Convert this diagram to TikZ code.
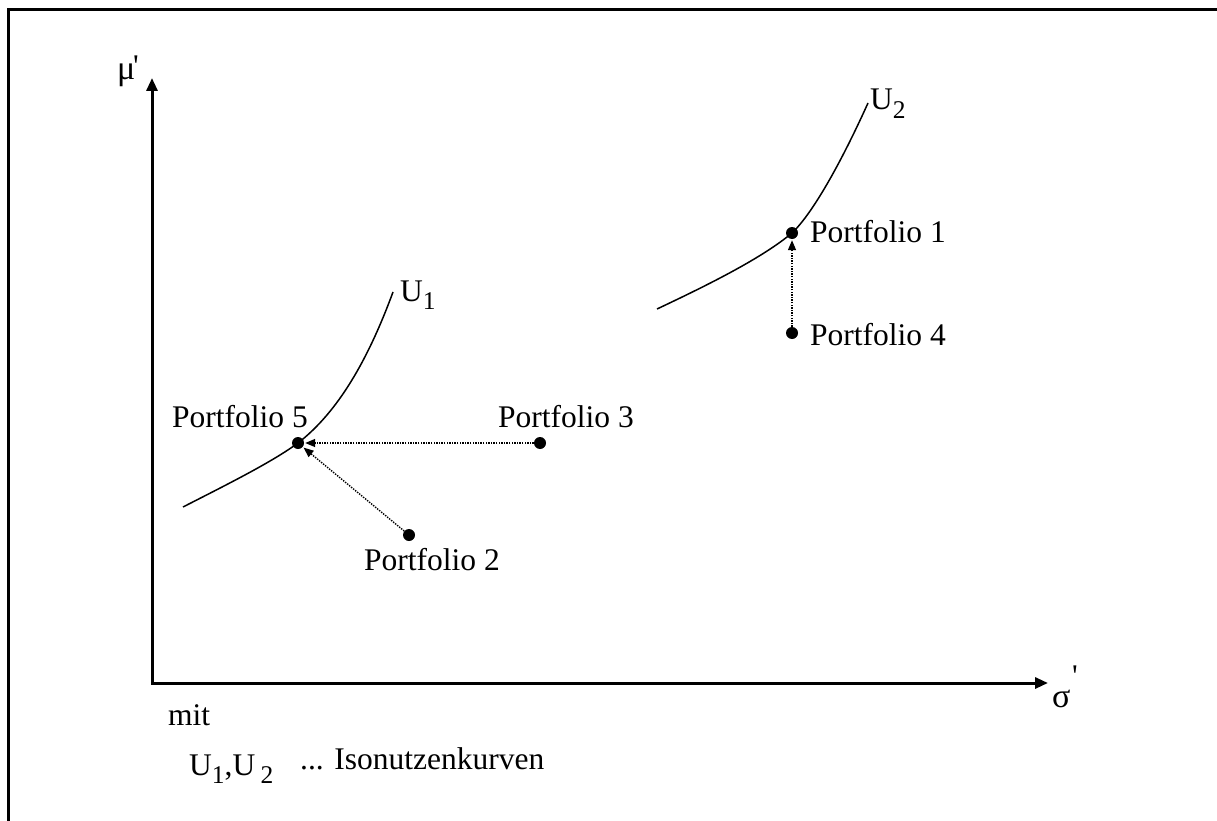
\documentclass[tikz,border=0pt]{standalone}
\usepackage{fontspec}
\setmainfont{Liberation Serif}
\usetikzlibrary{arrows.meta}
\newcommand\subnum[1]{\raisebox{-0.27em}{\fontsize{25.5}{28}\selectfont #1}}
\begin{document}
\begin{tikzpicture}[x=1pt,y=-1pt,
  every node/.style={font=\fontsize{31.5}{36}\selectfont, inner sep=0pt},
  axis/.style={line width=3pt, {Triangle[length=13pt,width=11pt]}-{Triangle[length=13pt,width=11pt]}},
  curve/.style={line width=1.5pt},
  dotpt/.style={circle, fill=black, minimum size=12pt, inner sep=0pt},
  move/.style={line width=1.4pt, dash pattern=on 1.4pt off 1.2pt, -{Triangle[length=10pt,width=8pt]}, shorten >=1pt},
  lbl/.style={anchor=base west},
  frame/.style={line width=2.5pt}]
\useasboundingbox (0,0) rectangle (1217,821);
% frame
\draw[frame] (8.5,821) -- (8.5,9.5) -- (1217,9.5);
% axes
\coordinate (O) at (152,683);
\coordinate (ytip) at (152,78);
\coordinate (xtip) at (1048,683);
\draw[axis] (ytip) -- (O) -- (xtip);
\node[lbl, font=\fontsize{34}{38}\selectfont] (mu) at (117,80) {μ};
\node[anchor=north] (mup) at (136,56) {\textquotesingle};
\node[lbl, font=\fontsize{34}{38}\selectfont] (sigma) at (1052,707) {σ};
\node[anchor=north] (sigp) at (1075,666) {\textquotesingle};
% points
\node[dotpt] (p5) at (298,443) {};
\node[dotpt] (p3) at (540,443) {};
\node[dotpt] (p2) at (409,535) {};
\node[dotpt] (p1) at (792,233) {};
\node[dotpt] (p4) at (792,333) {};
% curves
\draw[curve] (183,507) .. controls (230,483) and (272,462) .. (p5.center)
  .. controls (338,412) and (368,360) .. (393,292);
\draw[curve] (657,309) .. controls (710,284) and (762,258) .. (p1.center)
  .. controls (812,214) and (840,165) .. (868,103);
% moves
\draw[move] (p3) -- (p5);
\draw[move] (p2) -- (p5);
\draw[move] (p4) -- (p1);
% labels
\node[lbl] (l5) at (172,427) {Portfolio 5};
\node[lbl] (l3) at (498,427) {Portfolio 3};
\node[lbl] (l2) at (364,570) {Portfolio 2};
\node[lbl] (l1) at (810,242) {Portfolio 1};
\node[lbl] (l4) at (810,345) {Portfolio 4};
\node[lbl] (u1) at (400,301) {U\subnum{1}};
\node[lbl] (u2) at (870,110) {U\subnum{2}};
\node[lbl] (mit) at (168,725) {mit};
\node[lbl] (leg) at (189,775) {U\subnum{1},U\,\subnum{2}};
\node[lbl] (iso) at (300,769) {... Isonutzenkurven};
\end{tikzpicture}
\end{document}
